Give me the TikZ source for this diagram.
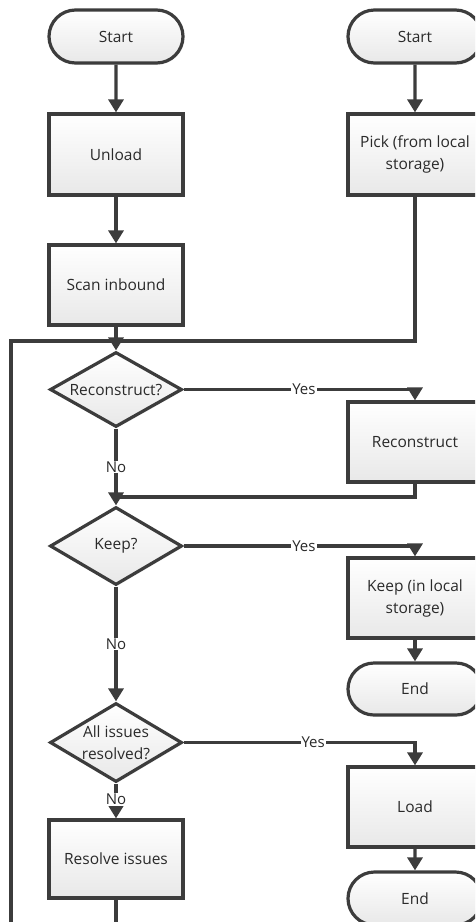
\documentclass[tikz,border=0pt]{standalone}
\usepackage{fontspec}
\setmainfont{Open Sans}
\usetikzlibrary{shapes.geometric,shapes.misc,arrows.meta,shadows}
\definecolor{ink}{HTML}{3C3C3C}
\definecolor{txt}{HTML}{2A2A2A}
\tikzset{
  boxtext/.style={text=txt, font=\fontsize{15.5}{22}\selectfont, align=center},
  base/.style={draw=ink, line width=3.2pt, top color=white, bottom color=black!9,
    boxtext, inner sep=0pt,
    drop shadow={opacity=0.12, shadow xshift=1.5pt, shadow yshift=-1.5pt}},
  term/.style={base, rounded rectangle, minimum width=134pt, minimum height=53pt},
  proc/.style={base, rectangle, minimum width=134pt, minimum height=80pt},
  decide/.style={base, diamond, minimum width=132pt, minimum height=77pt,
    label={[boxtext, inner sep=0pt]center:#1}},
  flow/.style={draw=ink, line width=3.2pt},
  arr/.style={flow, -{Triangle[width=15pt,length=13pt]}},
  lbl/.style={fill=white, text=txt, font=\fontsize{15}{16}\selectfont, inner sep=1pt}
}
\begin{document}
\begin{tikzpicture}[x=1pt, y=-1pt]
\clip (0,0) rectangle (475,922);

% left column
\node[term]  (start1)  at (116,36.5) {Start};
\node[proc, minimum height=81pt] (unload) at (116,154.5) {Unload};
\node[proc]  (scan)    at (116,285)  {Scan inbound};
\node[decide={Reconstruct?}, minimum height=75pt] (recq) at (116,389.5) {};
\node[decide={Keep?}, minimum height=78pt] (keepq) at (116,546) {};
\node[decide={All issues\\resolved?}, minimum height=79pt] (allq) at (116,742.5) {};
\node[proc, minimum height=78pt] (resolve) at (116,859) {Resolve issues};

% right column
\node[term]  (start2)  at (415,36.5) {Start};
\node[proc, minimum height=81pt] (pick) at (415,154.5) {Pick (from local\\storage)};
\node[proc]  (recon)   at (415,442)  {Reconstruct};
\node[proc]  (keep)    at (415,598)  {Keep (in local\\storage)};
\node[term, minimum height=52pt] (end1) at (415,689) {End};
\node[proc]  (load)    at (415,807)  {Load};
\node[term]  (end2)    at (415,898.5) {End};

% junction points
\coordinate (mtop) at (116,341);
\coordinate (mmid) at (116,497);
\coordinate (loopL) at (11,341);
\coordinate (loopB) at (11,960);

% return paths into the main column
\draw[flow] (pick.south) |- (mtop);
\draw[flow] (resolve.south) -- (resolve.south |- loopB) -- (loopB) -- (loopL) -- (mtop);
\draw[flow] (recon.south) |- (mmid);

% main sequence
\draw[arr] (start1) -- (unload);
\draw[arr] (unload) -- (scan);
\draw[arr] (scan) -- (recq);
\draw[arr] (recq) -- node[lbl, pos=0.5]{No} (keepq);
\draw[arr] (keepq) -- node[lbl]{No} (allq);
\draw[arr] (allq) -- node[lbl, pos=0.45]{No} (resolve);
\draw[arr] (start2) -- (pick);

% yes branches
\draw[arr] (recq.east) -| node[lbl, pos=0.26]{Yes} (recon.north);
\draw[arr] (keepq.east) -| node[lbl, pos=0.26]{Yes} (keep.north);
\draw[arr] (allq.east) -| node[lbl, pos=0.28]{Yes} (load.north);
\draw[arr] (keep) -- (end1);
\draw[arr] (load) -- (end2);
\end{tikzpicture}
\end{document}
